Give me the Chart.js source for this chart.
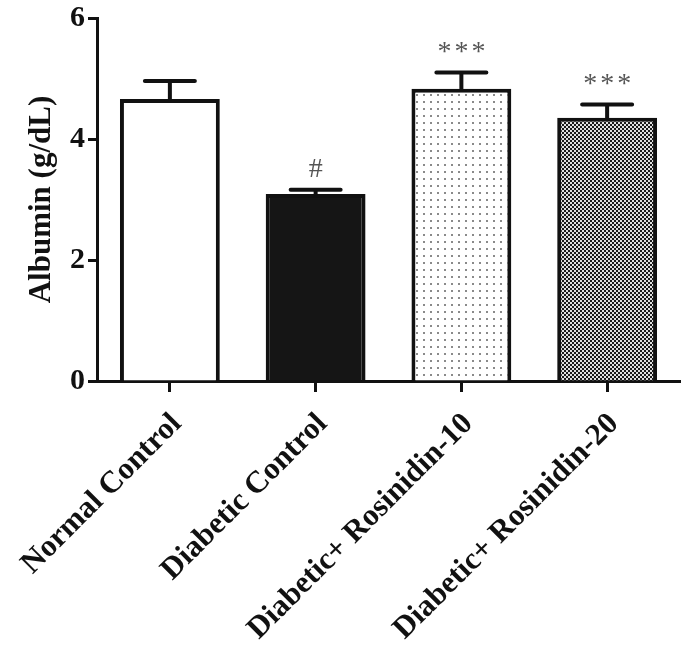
<!DOCTYPE html>
<html>
<head>
<meta charset="utf-8">
<script src="https://cdn.jsdelivr.net/npm/chart.js@4.4.1/dist/chart.umd.min.js"></script>
<style>
  html, body { margin: 0; padding: 0; background: #ffffff; }
  #wrap { width: 695px; height: 661px; position: relative; }
</style>
</head>
<body>
<div id="wrap"><canvas id="c" width="695" height="661"></canvas></div>
<script>
const categories = ['Normal Control', 'Diabetic Control', 'Diabetic+ Rosinidin-10', 'Diabetic+ Rosinidin-20'];
const means = [4.66, 3.09, 4.83, 4.35];
const errors = [0.30, 0.07, 0.27, 0.22];
const marks = ['', '#', '***', '***'];
const yTicks = [0, 2, 4, 6];

const SERIF = "'Liberation Serif', 'Times New Roman', serif";

function dotPattern() {
  const c = document.createElement('canvas');
  c.width = 7; c.height = 7;
  const g = c.getContext('2d');
  g.fillStyle = '#ffffff'; g.fillRect(0, 0, 7, 7);
  g.fillStyle = '#8a8a8a'; g.fillRect(3, 3, 2, 2);
  return g.createPattern(c, 'repeat');
}
function checkPattern() {
  const c = document.createElement('canvas');
  c.width = 4; c.height = 4;
  const g = c.getContext('2d');
  g.fillStyle = '#1a1a1a'; g.fillRect(0, 0, 4, 4);
  g.fillStyle = '#e0e0e0'; g.fillRect(0, 0, 2, 2); g.fillRect(2, 2, 2, 2);
  return g.createPattern(c, 'repeat');
}

const fills = ['#ffffff', '#151515', dotPattern(), checkPattern()];

const errPlugin = {
  id: 'errbars',
  afterDatasetsDraw(chart) {
    const ctx = chart.ctx;
    const meta = chart.getDatasetMeta(0);
    const ys = chart.scales.y;
    ctx.save();
    meta.data.forEach((bar, i) => {
      const x = bar.x;
      const top = ys.getPixelForValue(means[i] + errors[i]);
      ctx.strokeStyle = '#111';
      ctx.lineWidth = 4;
      ctx.lineCap = 'round';
      ctx.beginPath();
      ctx.moveTo(x, bar.y);
      ctx.lineTo(x, top);
      ctx.moveTo(x - 25, top);
      ctx.lineTo(x + 25, top);
      ctx.stroke();
      if (marks[i]) {
        ctx.fillStyle = '#555';
        ctx.font = '28px ' + SERIF;
        ctx.textAlign = 'center';
        ctx.textBaseline = 'bottom';
        if (marks[i] === '***') {
          try { ctx.letterSpacing = '3px'; } catch (e) {}
        }
        ctx.fillText(marks[i], x + (marks[i] === '***' ? 1.5 : 0), top - 6);
        try { ctx.letterSpacing = '0px'; } catch (e) {}
      }
    });
    ctx.restore();
  }
};

new Chart(document.getElementById('c'), {
  type: 'bar',
  data: {
    labels: categories,
    datasets: [{
      data: means,
      backgroundColor: fills,
      borderColor: '#111',
      borderWidth: 4,
      borderSkipped: 'start',
      barPercentage: 0.685,
      categoryPercentage: 1.0
    }]
  },
  options: {
    responsive: false,
    animation: false,
    devicePixelRatio: 1,
    layout: { padding: { top: 18, right: 15, left: 0, bottom: 0 } },
    plugins: { legend: { display: false }, tooltip: { enabled: false } },
    scales: {
      x: {
        grid: { display: true, drawOnChartArea: false, drawTicks: true, tickLength: 11, tickWidth: 3, tickColor: '#111', offset: false },
        border: { display: true, color: '#111', width: 3 },
        ticks: {
          color: '#111',
          font: { family: SERIF, size: 31, weight: 'bold' },
          minRotation: 45, maxRotation: 45, padding: 14, labelOffset: 7
        },
        afterFit(s) { s.height = 280; s.paddingLeft = 0; s.paddingRight = 0; }
      },
      y: {
        min: 0, max: 6,
        afterBuildTicks(s) { s.ticks = yTicks.map(v => ({ value: v })); },
        grid: { display: true, drawOnChartArea: false, drawTicks: true, tickLength: 9, tickWidth: 3, tickColor: '#111' },
        border: { display: true, color: '#111', width: 3 },
        ticks: {
          color: '#111',
          font: { family: SERIF, size: 30, weight: 'bold' },
          padding: 3
        },
        title: {
          display: true, text: 'Albumin (g/dL)', color: '#111',
          font: { family: SERIF, size: 31, weight: 'bold' },
          padding: { top: 23, bottom: 0 }
        },
        afterFit(s) { s.width = 97; s.paddingTop = 0; s.paddingBottom = 0; }
      }
    }
  },
  plugins: [errPlugin]
});
</script>
</body>
</html>
